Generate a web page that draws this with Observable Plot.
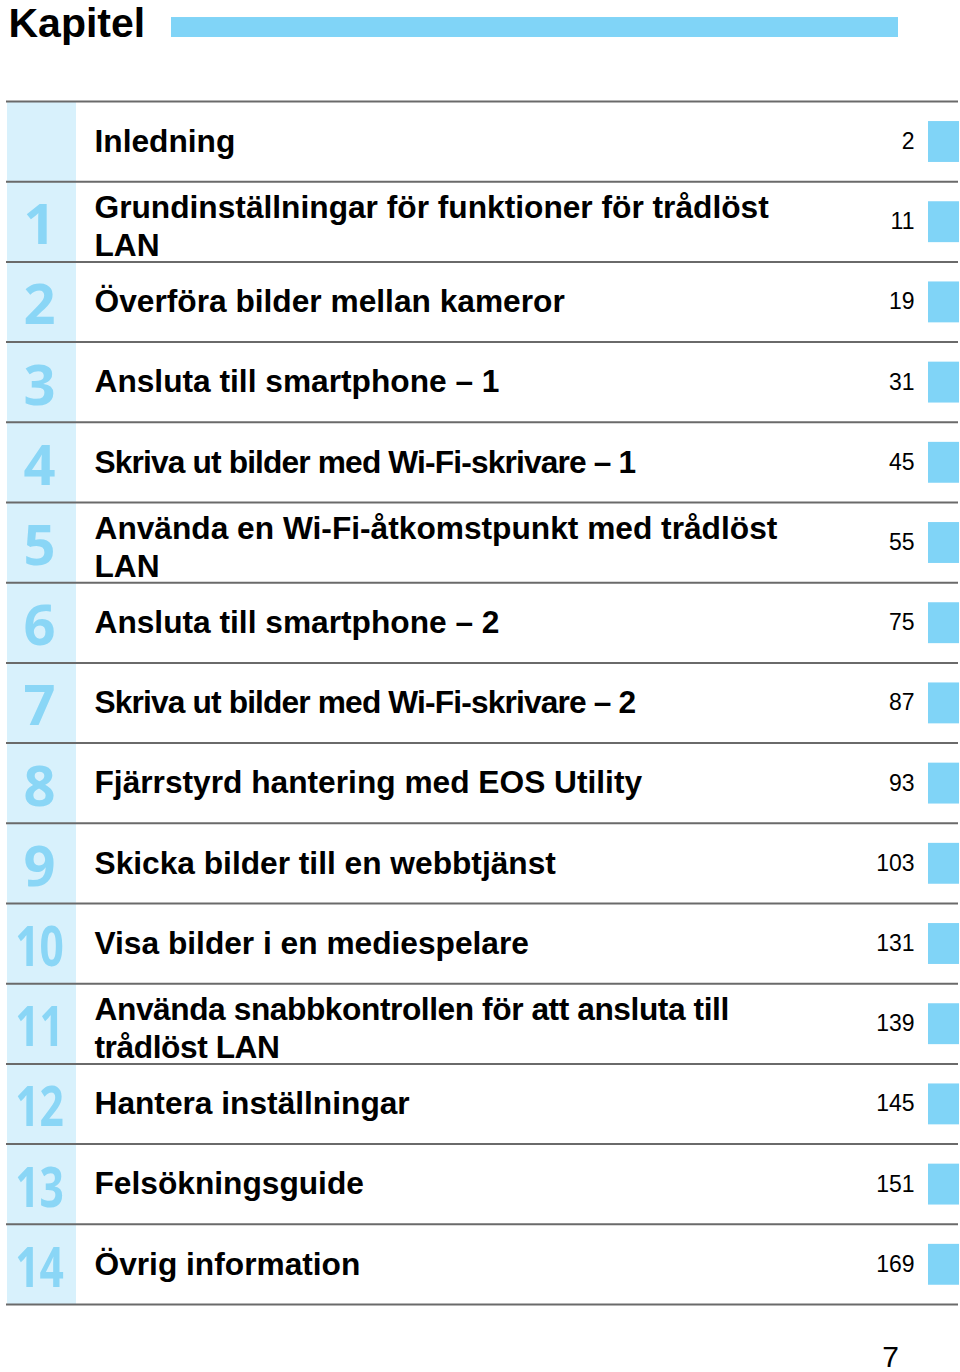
<!DOCTYPE html>
<html>
<head>
<meta charset="utf-8">
<script src="https://cdn.jsdelivr.net/npm/d3@7"></script>
<script src="https://cdn.jsdelivr.net/npm/@observablehq/plot@0.6"></script>
<style>
  html, body { margin: 0; padding: 0; background: #fff; }
  #chart svg { display: block; }
</style>
</head>
<body>
<div id="chart"></div>
<script>
// ---- data ----
const heading = "Kapitel";
const folio = "7";
const chapterNumbers = ["", "1", "2", "3", "4", "5", "6", "7", "8", "9", "10", "11", "12", "13", "14"];
const chapterTitles = [
  "Inledning",
  "Grundinställningar för funktioner för trådlöst\nLAN",
  "Överföra bilder mellan kameror",
  "Ansluta till smartphone – 1",
  "Skriva ut bilder med Wi-Fi-skrivare – 1",
  "Använda en Wi-Fi-åtkomstpunkt med trådlöst\nLAN",
  "Ansluta till smartphone – 2",
  "Skriva ut bilder med Wi-Fi-skrivare – 2",
  "Fjärrstyrd hantering med EOS Utility",
  "Skicka bilder till en webbtjänst",
  "Visa bilder i en mediespelare",
  "Använda snabbkontrollen för att ansluta till\ntrådlöst LAN",
  "Hantera inställningar",
  "Felsökningsguide",
  "Övrig information"
];
const pageNumbers = [2, 11, 19, 31, 45, 55, 75, 87, 93, 103, 131, 139, 145, 151, 169];

// ---- derived table ----
const rows = chapterTitles.map((title, i) => ({
  row: i,
  num: chapterNumbers[i],
  title,
  page: String(pageNumbers[i]),
  wrapped: title.includes("\n")
}));
const boundaries = d3.range(rows.length + 1);

// ---- style ----
const accent = "#80d4f7";
const digitBlue = "#8ad6f6";
const pale = "#d8f1fc";
const ruleColor = "#6a6a6a";
const sans = "'Liberation Sans', Arial, Helvetica, sans-serif";
const digitFont = "'Open Sans', 'Noto Sans', sans-serif";
const titleSize = 31.7;
// tighter tracking used by the printed page on a few long lines (row -> px)
const tracking = { 4: -0.85, 7: -0.85, 11: -0.43 };

const plot = Plot.plot({
  width: 960,
  height: 1372,
  margin: 0,
  style: { background: "#fff", fontFamily: sans },
  x: { type: "linear", domain: [0, 960], range: [0, 960], axis: null },
  y: { type: "linear", domain: [0, rows.length], range: [101, 1304], axis: null },
  marks: [
    // header
    Plot.text([heading], {
      x: 8, y: -0.97, text: d => d, textAnchor: "start",
      fontSize: 41, fontWeight: "bold", fill: "#000", fontFamily: sans
    }),
    Plot.rect([heading], { x1: 171, x2: 898, y1: -1.047, y2: -0.798, fill: accent }),
    // pale chapter-number column
    Plot.rect([rows.length], { x1: 7, x2: 76, y1: 0, y2: d => d, fill: pale }),
    // chapter numbers
    Plot.text(rows, {
      x: 39, y: d => d.row + 0.556, text: "num",
      fontSize: 56, fontWeight: "bold", fill: digitBlue, fontFamily: digitFont
    }),
    // titles
    Plot.text(rows, {
      x: 94, y: d => d.row + 0.5 + (d.wrapped ? 0.04 : -0.025), text: "title", textAnchor: "start",
      fontSize: titleSize, fontWeight: "bold", lineHeight: 1.21, fill: "#000", fontFamily: sans
    }),
    // page numbers
    Plot.text(rows, {
      x: 914, y: d => d.row + 0.5, text: "page", textAnchor: "end",
      fontSize: 23, fill: "#000", fontFamily: sans
    }),
    // blue tabs
    Plot.rect(rows, { x1: 928, x2: 959, y1: d => d.row + 0.25, y2: d => d.row + 0.76, fill: accent }),
    // row rules
    Plot.ruleY(boundaries, { x1: 6, x2: 958, stroke: ruleColor, strokeWidth: 2 }),
    // folio
    Plot.text([folio], {
      x: 890, y: 15.66, text: d => d, fontSize: 30, fill: "#000", fontFamily: sans
    })
  ]
});

const svg = d3.select(plot);
// condense the two-digit chapter numbers, as in the printed page
svg.selectAll(`g[fill="${digitBlue}"] text`).each(function () {
  const t = d3.select(this);
  if (t.text().length > 1) t.attr("transform", (t.attr("transform") || "") + " scale(0.76,1)");
});
// tighter tracking on some title lines
svg.selectAll(`g[font-size="${titleSize}"] text`).each(function (_, i) {
  if (tracking[i] != null) d3.select(this).style("letter-spacing", tracking[i] + "px");
});

document.getElementById("chart").append(plot);
</script>
</body>
</html>
